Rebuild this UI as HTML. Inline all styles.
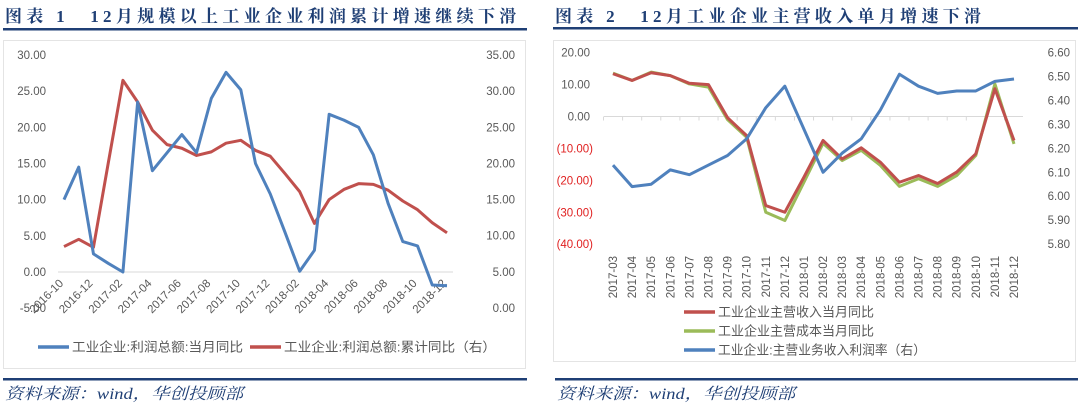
<!DOCTYPE html>
<html><head><meta charset="utf-8"><style>
html,body{margin:0;padding:0;background:#fff;width:1080px;height:406px;overflow:hidden}
svg text{font-family:"Liberation Sans","Noto Sans CJK SC",sans-serif}
.ttl{font-family:"Liberation Serif","Noto Serif CJK SC",serif;font-weight:bold;font-size:17px;fill:#1f3f75;letter-spacing:4.3px}
.src{font-family:"Liberation Serif","Noto Serif CJK SC",serif;font-style:italic;font-size:16px;fill:#1f3f75}
.tk{font-size:11.5px;fill:#595959}
.tkr{font-size:11.5px;fill:#e02020}
.lg{font-size:13px;fill:#595959}
</style></head><body>
<svg id="s" width="1080" height="406" xmlns="http://www.w3.org/2000/svg">
<text class="ttl" x="5" y="22">图表 1　12月规模以上工业企业利润累计增速继续下滑</text>
<rect x="3" y="28" width="524" height="2.5" fill="#1f3f75"/>
<text class="ttl" x="555" y="22">图表 2　12月工业企业主营收入单月增速下滑</text>
<rect x="553" y="27" width="525" height="2.5" fill="#1f3f75"/>
<rect x="3.5" y="40.5" width="522" height="328" fill="#fff" stroke="#e4e4e4"/>
<rect x="553.5" y="40.5" width="522" height="321" fill="#fff" stroke="#e4e4e4"/>
<g id="c1"></g>
<g id="c2"></g>
<rect x="3" y="378" width="524" height="2.5" fill="#1f3f75"/>
<rect x="555" y="378" width="523" height="2.5" fill="#1f3f75"/>
<text class="src" x="5" y="399" textLength="238" lengthAdjust="spacingAndGlyphs">资料来源：wind，华创投顾部</text>
<text class="src" x="557" y="399" textLength="238" lengthAdjust="spacingAndGlyphs">资料来源：wind，华创投顾部</text>
</svg>
<script>
const c1Months=["2016-10","2016-11","2016-12","2017-01","2017-02","2017-03","2017-04","2017-05","2017-06","2017-07","2017-08","2017-09","2017-10","2017-11","2017-12","2018-01","2018-02","2018-03","2018-04","2018-05","2018-06","2018-07","2018-08","2018-09","2018-10","2018-11","2018-12"];
const c1Monthly=[10,14.5,2.5,1.2,0,23.5,14,16.5,19,16.5,24,27.6,25.2,15,10.8,5.5,0.1,3,21.8,21,20,16.2,9.5,4.2,3.6,-1.8,-1.9];
const c1Cumulative=[8.5,9.5,8.4,20,31.5,28.5,24.6,22.6,22.1,21.1,21.6,22.8,23.2,21.8,21,18.6,16.1,11.7,15,16.4,17.2,17.1,16.3,14.8,13.6,11.8,10.4];
const c1LeftTicks=[-5,0,5,10,15,20,25,30];
const c1RightTicks=[0,5,10,15,20,25,30,35];

const c2Months=["2017-03","2017-04","2017-05","2017-06","2017-07","2017-08","2017-09","2017-10","2017-11","2017-12","2018-01","2018-02","2018-03","2018-04","2018-05","2018-06","2018-07","2018-08","2018-09","2018-10","2018-11","2018-12"];
const c2Revenue=[13.4,11.3,13.7,12.8,10.4,10,-0.4,-6,-27.9,-30,-19,-7.5,-13.3,-9.8,-14.3,-20.6,-18.5,-21,-17.4,-11.7,8.7,-7.5];
const c2Cost=[13.6,11.3,13.9,12.8,10.2,9.2,-1,-6.5,-30,-32.6,-20.6,-8.4,-13.8,-10.6,-15.3,-21.9,-19.5,-21.9,-18.5,-12.2,10.2,-8.6];
const c2Margin=[6.13,6.04,6.05,6.11,6.09,6.13,6.17,6.24,6.37,6.46,6.28,6.10,6.18,6.24,6.36,6.51,6.46,6.43,6.44,6.44,6.48,6.49];
const c2LeftTicks=[-40,-30,-20,-10,0,10,20];
const c2RightTicks=[5.8,5.9,6.0,6.1,6.2,6.3,6.4,6.5,6.6];

const NS="http://www.w3.org/2000/svg";
function mk(p,t,a){const e=document.createElementNS(NS,t);for(const k in a)e.setAttribute(k,a[k]);p.appendChild(e);return e;}
function fmt(v){return v<0?"("+Math.abs(v).toFixed(2)+")":v.toFixed(2);}

// chart 1
const g1=document.getElementById('c1');
const x1=i=>64+i*(383/26);
const yl1=v=>272-v*(217/30);
const yr1=v=>308-v*(253/35);
let e=mk(g1,'line',{x1:58,x2:453,y1:yl1(0),y2:yl1(0),stroke:'#d9d9d9','stroke-width':1});


c1LeftTicks.forEach(v=>{const t=mk(g1,'text',{x:46,y:yl1(v)+4,'text-anchor':'end',class:'tk'});t.textContent=v.toFixed(2);

});
c1RightTicks.forEach(v=>{const t=mk(g1,'text',{x:515,y:yr1(v)+4,'text-anchor':'end',class:'tk'});t.textContent=v.toFixed(2);

});
c1Months.forEach((m,i)=>{if(i%2)return;const x=x1(i),y=284;const t=mk(g1,'text',{x:x,y:y,'text-anchor':'end',class:'tk',transform:`rotate(-45 ${x} ${y})`});t.textContent=m;

});
function line(g,arr,xf,yf,col,w){return mk(g,'polyline',{points:arr.map((v,i)=>xf(i)+','+yf(v)).join(' '),fill:'none',stroke:col,'stroke-width':w,'stroke-linejoin':'round'});}
e=line(g1,c1Cumulative,x1,yr1,'#c0504d',3);


e=line(g1,c1Monthly,x1,yl1,'#4f81bd',3);


function legend(g,x,y,col,txt,w,name){const l=mk(g,'line',{x1:x,x2:x+31,y1:y,y2:y,stroke:col,'stroke-width':3.5});


const t=mk(g,'text',{x:x+34,y:y+4.5,class:'lg',textLength:w,lengthAdjust:'spacingAndGlyphs'});t.textContent=txt;

}
legend(g1,38,347,'#4f81bd','工业企业:利润总额:当月同比',171,'c1-legend-monthly');
legend(g1,250,347,'#c0504d','工业企业:利润总额:累计同比（右）',212,'c1-legend-cumulative');

// chart 2
const g2=document.getElementById('c2');
const x2=i=>613+i*(401/21);
const yl2=v=>116.5-v*(191.5/60);
const yr2=v=>244-(v-5.8)*(191.3/0.8);
e=mk(g2,'line',{x1:604,x2:1023,y1:yl2(0),y2:yl2(0),stroke:'#d9d9d9','stroke-width':1});


c2Months.forEach((m,i)=>{const tk=mk(g2,'line',{x1:x2(i)-9.5,x2:x2(i)-9.5,y1:yl2(0),y2:yl2(0)+4,stroke:'#d9d9d9'});


const x=x2(i)+4,y=256;const t=mk(g2,'text',{x:x,y:y,'text-anchor':'end',class:'tk',transform:`rotate(-90 ${x} ${y})`});t.textContent=m;

});
c2LeftTicks.forEach(v=>{const t=mk(g2,'text',{x:v<0?593:590,y:yl2(v)+4,'text-anchor':'end',class:v<0?'tkr':'tk'});t.textContent=fmt(v);

});
c2RightTicks.forEach(v=>{const t=mk(g2,'text',{x:1070,y:yr2(v)+4,'text-anchor':'end',class:'tk'});t.textContent=v.toFixed(2);

});
e=line(g2,c2Cost,x2,yl2,'#9bbb59',3);


e=line(g2,c2Revenue,x2,yl2,'#c0504d',3);


e=line(g2,c2Margin,x2,yr2,'#4f81bd',3);


legend(g2,684,312,'#c0504d','工业企业主营收入当月同比',156,'c2-legend-revenue');
legend(g2,684,331,'#9bbb59','工业企业主营成本当月同比',156,'c2-legend-cost');
legend(g2,684,350,'#4f81bd','工业企业:主营业务收入利润率（右）',208,'c2-legend-margin');
</script>
</body></html>
